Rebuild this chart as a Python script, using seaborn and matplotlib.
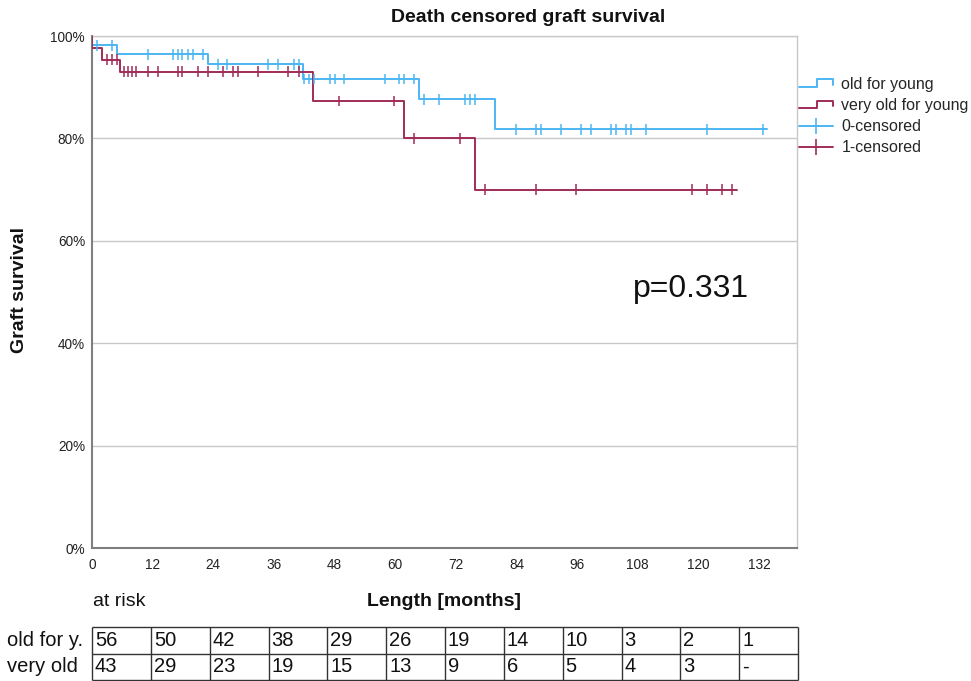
import numpy as np
import pandas as pd
import matplotlib
matplotlib.use("Agg")
import matplotlib.pyplot as plt
import seaborn as sns
from matplotlib.lines import Line2D
from matplotlib.legend_handler import HandlerBase

# ---------------- data ----------------
groups = ["old for young", "very old for young"]

blue_event_times = [0, 5.0, 22.9, 41.7, 64.8, 79.8]
blue_surv = [98.2, 96.4, 94.5, 91.6, 87.6, 81.8]
blue_censor = [0.9, 3.9, 11.0, 16.0, 17.0, 17.9, 18.9, 19.9, 21.9, 24.9, 26.8,
               34.9, 36.9, 39.9, 40.9, 42.0, 43.0, 44.0, 47.0, 48.0, 49.9, 57.9,
               60.8, 61.8, 63.8, 65.7, 68.7, 73.8, 74.8, 75.8, 83.8, 87.8, 88.8,
               92.8, 96.8, 98.8, 102.7, 103.7, 105.7, 106.7, 109.6, 121.6, 132.7]
blue_end = 133.5

red_event_times = [0, 1.9, 5.6, 43.8, 61.8, 75.8]
red_surv = [97.7, 95.4, 93.0, 87.3, 80.0, 70.0]
red_censor = [2.9, 3.9, 4.9, 6.4, 7.2, 8.0, 8.8, 11.0, 13.0, 17.0, 17.9, 20.9,
              22.9, 26.0, 27.9, 28.9, 32.9, 38.8, 40.9, 48.9, 59.8, 63.8, 72.9,
              77.8, 87.9, 95.8, 118.7, 121.6, 124.6, 126.7]
red_end = 127.6

risk_labels = ["old for y.", "very old"]
risk_old = ["56", "50", "42", "38", "29", "26", "19", "14", "10", "3", "2", "1"]
risk_very_old = ["43", "29", "23", "19", "15", "13", "9", "6", "5", "4", "3", "-"]

x_ticks = [0, 12, 24, 36, 48, 60, 72, 84, 96, 108, 120, 132]
y_ticks = [0, 20, 40, 60, 80, 100]
p_text = "p=0.331"

BLUE = "#4cb6f2"
RED = "#a02c58"

# ---------------- style ----------------
sns.set_theme(style="white")
plt.rcParams["font.family"] = ["Liberation Sans", "DejaVu Sans"]

fig = plt.figure(figsize=(9.71, 6.81), dpi=100)
W, H = 971, 681
ax = fig.add_axes([92 / W, 1 - 548 / H, (797 - 92) / W, (548 - 36) / H])


def curve_frame(name, ev_t, ev_s, end):
    t = [0.0] + list(ev_t) + [end]
    s = [100.0] + list(ev_s) + [ev_s[-1]]
    return pd.DataFrame({"time": t, "surv": s, "group": name})


def censor_frame(name, ev_t, ev_s, cens):
    idx = np.searchsorted(np.array(ev_t), np.array(cens), side="right") - 1
    s = np.array(ev_s)[idx]
    return pd.DataFrame({"time": cens, "surv": s, "group": name})


curves = pd.concat([
    curve_frame(groups[0], blue_event_times, blue_surv, blue_end),
    curve_frame(groups[1], red_event_times, red_surv, red_end),
])
cens = pd.concat([
    censor_frame(groups[0], blue_event_times, blue_surv, blue_censor),
    censor_frame(groups[1], red_event_times, red_surv, red_censor),
])
palette = {groups[0]: BLUE, groups[1]: RED}

for g in groups:
    sub = curves[curves.group == g]
    ax.plot(sub.time, sub.surv, drawstyle="steps-post", color=palette[g], lw=1.4, zorder=3)

sns.scatterplot(data=cens, x="time", y="surv", hue="group", palette=palette,
                marker="|", s=60, linewidth=1.1, legend=False, ax=ax, zorder=4)

ax.set_xlim(0, 139.5)
ax.set_ylim(0, 100)
ax.set_xticks(x_ticks)
ax.set_yticks(y_ticks)
ax.set_yticklabels([f"{v}%" for v in y_ticks])
ax.tick_params(axis="y", length=0, labelsize=9.8, colors="#222222", pad=5)
ax.tick_params(axis="x", length=0, labelsize=9.8, colors="#222222", pad=7)
ax.yaxis.grid(True, color="#c8c8c8", lw=1)
ax.xaxis.grid(False)
ax.set_axisbelow(True)
for side in ["left", "bottom"]:
    ax.spines[side].set_color("#7f7f7f")
    ax.spines[side].set_linewidth(1.5)
for side in ["top", "right"]:
    ax.spines[side].set_color("#c8c8c8")
    ax.spines[side].set_linewidth(1)
ax.set_xlabel("")
ax.set_ylabel("")

ax.text(118.5, 50.5, p_text, fontsize=23, ha="center", va="center", color="#111111")

fig.text(528 / W, 1 - 18 / H, "Death censored graft survival", fontsize=14,
         fontweight="bold", ha="center", va="center", color="#111111")
fig.text(20 / W, 1 - 290 / H, "Graft survival", fontsize=14, fontweight="bold",
         rotation=90, ha="center", va="center", color="#111111")
fig.text(444 / W, 1 - 601 / H, "Length [months]", fontsize=14, fontweight="bold",
         ha="center", va="center", color="#111111")
fig.text(93 / W, 1 - 602 / H, "at risk", fontsize=14, ha="left", va="center",
         color="#111111")


# legend with step-shaped icons
class StepHandler(HandlerBase):
    def create_artists(self, legend, orig_handle, xdescent, ydescent, width,
                       height, fontsize, trans):
        x0 = -xdescent
        y0 = -ydescent
        xs = [x0, x0 + width * 0.55, x0 + width * 0.55, x0 + width, x0 + width]
        ys = [y0 + height * 0.15, y0 + height * 0.15, y0 + height * 0.85,
              y0 + height * 0.85, y0 + height * 0.4]
        ln = Line2D(xs, ys, color=orig_handle.get_color(), lw=1.4)
        ln.set_transform(trans)
        return [ln]


class StepLine(Line2D):
    pass


h1 = StepLine([], [], color=BLUE)
h2 = StepLine([], [], color=RED)
h3 = Line2D([], [], color=BLUE, lw=1.4, marker="|", markersize=11, markeredgewidth=1.2)
h4 = Line2D([], [], color=RED, lw=1.4, marker="|", markersize=11, markeredgewidth=1.2)
fig.legend([h1, h2, h3, h4],
           ["old for young", "very old for young", "0-censored", "1-censored"],
           handler_map={StepLine: StepHandler()},
           loc="upper left", bbox_to_anchor=(799 / W, 1 - 77 / H),
           frameon=False, fontsize=11.5, handlelength=2.1, handletextpad=0.55,
           labelspacing=0.38, borderaxespad=0, borderpad=0, numpoints=1)

# at-risk table
tax = fig.add_axes([92 / W, 1 - 680 / H, (798 - 92) / W, (680 - 627) / H])
ncol = len(risk_old)
tax.set_xlim(0, ncol)
tax.set_ylim(0, 2)
tax.axis("off")
tax.vlines(np.arange(ncol + 1), 0, 2, color="#333333", lw=1, clip_on=False)
tax.hlines([0, 1, 2], 0, ncol, color="#333333", lw=1, clip_on=False)
for row, vals in enumerate([risk_old, risk_very_old]):
    yc = 1.5 - row
    for i, v in enumerate(vals):
        tax.text(i + 0.05, yc, v, fontsize=14.5, ha="left", va="center", color="#111111")
    fig.text(7 / W, 1 - (640 + 27 * row) / H, risk_labels[row], fontsize=14.5,
             ha="left", va="center", color="#111111")

fig.savefig("out.png", dpi=100)
